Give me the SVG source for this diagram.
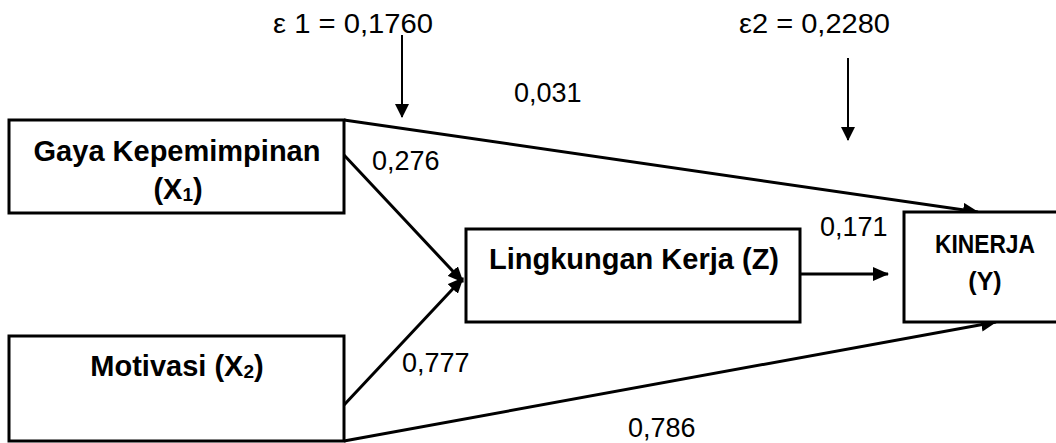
<svg xmlns="http://www.w3.org/2000/svg" width="1056" height="443" viewBox="0 0 1056 443">
<style>
.box{fill:#fff;stroke:#000;stroke-width:3}
.lbl{font-family:"Liberation Sans",Arial,sans-serif;font-weight:bold;font-size:29px;fill:#000;text-anchor:middle}
.lbly{font-family:"Liberation Sans",Arial,sans-serif;font-weight:bold;font-size:25px;fill:#000;text-anchor:middle}
.num{font-family:"Liberation Sans",Arial,sans-serif;font-size:27px;fill:#000}
.con{stroke:#000;stroke-width:3;fill:none}
.thin{stroke:#000;stroke-width:2;fill:none}
</style>
<defs>
<marker id="ah" markerUnits="userSpaceOnUse" markerWidth="16" markerHeight="14" refX="15" refY="7" orient="auto">
<path d="M0,0 L16,7 L0,14 z" fill="#000"/>
</marker>
<marker id="ahs" markerUnits="userSpaceOnUse" markerWidth="14" markerHeight="14" refX="13" refY="7" orient="auto">
<path d="M0,0 L14,7 L0,14 z" fill="#000"/>
</marker>
</defs>
<rect width="1056" height="443" fill="#fff"/>
<g id="connectors">
<line class="con" x1="344" y1="120" x2="978" y2="212" marker-end="url(#ah)"/>
<line class="con" x1="344" y1="155" x2="463" y2="282" marker-end="url(#ah)"/>
<line class="con" x1="344" y1="405" x2="463" y2="278" marker-end="url(#ah)"/>
<line class="con" x1="800" y1="274" x2="888" y2="274" marker-end="url(#ah)"/>
<line class="con" x1="344" y1="441" x2="996" y2="322" marker-end="url(#ah)"/>
<line class="thin" x1="402" y1="35" x2="402" y2="117" marker-end="url(#ahs)"/>
<line class="thin" x1="848" y1="58" x2="848" y2="140" marker-end="url(#ahs)"/>
</g>
<g id="x1">
<rect class="box" x="9" y="120" width="335" height="93"/>
<text class="lbl" x="177" y="161">Gaya Kepemimpinan</text>
<text class="lbl" x="178" y="199">(X<tspan font-size="19" dy="2">1</tspan><tspan dy="-2">)</tspan></text>
</g>
<g id="x2">
<rect class="box" x="9" y="336" width="335" height="105"/>
<text class="lbl" x="177" y="376">Motivasi (X<tspan font-size="19" dy="2">2</tspan><tspan dy="-2">)</tspan></text>
</g>
<g id="z">
<rect class="box" x="466" y="229" width="334" height="93"/>
<text class="lbl" x="634" y="269">Lingkungan Kerja (Z)</text>
</g>
<g id="y">
<rect class="box" x="904" y="212" width="160" height="110"/>
<text class="lbly" x="985" y="253" textLength="100" lengthAdjust="spacingAndGlyphs">KINERJA</text>
<text class="lbly" x="985" y="290">(Y)</text>
</g>
<g id="labels">
<text class="num" x="273" y="33" textLength="160" lengthAdjust="spacingAndGlyphs">ε 1 = 0,1760</text>
<text class="num" x="739" y="33" textLength="151" lengthAdjust="spacingAndGlyphs">ε2 = 0,2280</text>
<text class="num" x="514" y="102">0,031</text>
<text class="num" x="372" y="170">0,276</text>
<text class="num" x="820" y="236">0,171</text>
<text class="num" x="402" y="372">0,777</text>
<text class="num" x="628" y="437">0,786</text>
</g>
</svg>
